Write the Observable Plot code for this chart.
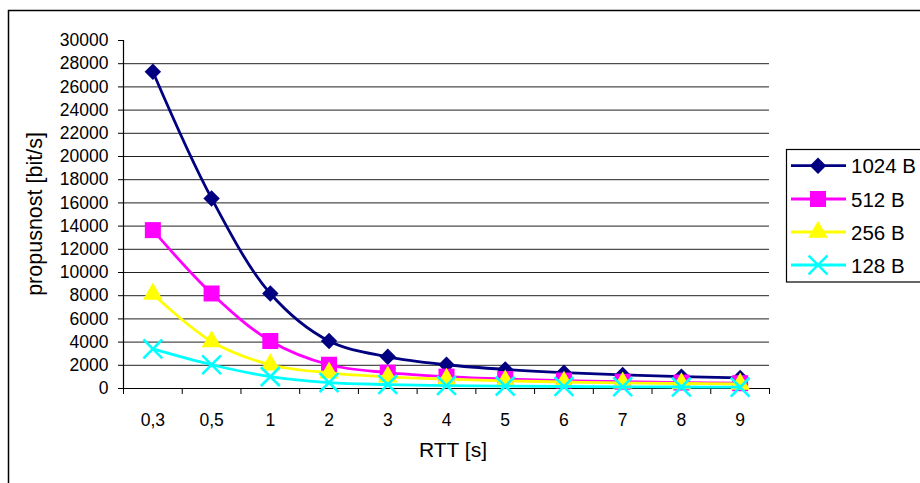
<!DOCTYPE html>
<html>
<head>
<meta charset="utf-8">
<script src="https://cdn.jsdelivr.net/npm/d3@7"></script>
<script src="https://cdn.jsdelivr.net/npm/@observablehq/plot@0.6"></script>
<style>
  html, body { margin: 0; padding: 0; background: #fff; }
  #chart { width: 920px; height: 483px; overflow: hidden; }
</style>
</head>
<body>
<div id="chart"></div>
<script>
// ---- data ----
const categories = ["0,3", "0,5", "1", "2", "3", "4", "5", "6", "7", "8", "9"];
const s1024 = [27300, 16384, 8192, 4096, 2731, 2048, 1638, 1365, 1170, 1024, 910];
const s512  = [13653, 8192, 4096, 2048, 1365, 1024, 819, 683, 585, 512, 455];
const s256  = [8150, 4050, 2048, 1350, 1000, 800, 660, 560, 480, 430, 390];
const s128  = [3413, 2048, 1024, 512, 341, 256, 205, 171, 146, 128, 114];
const seriesNames = ["1024 B", "512 B", "256 B", "128 B"];
const yTicks = [0, 2000, 4000, 6000, 8000, 10000, 12000, 14000, 16000, 18000, 20000, 22000, 24000, 26000, 28000, 30000];
const xTitle = "RTT [s]";
const yTitle = "propusnost [bit/s]";

// ---- styles ----
const seriesValues = [s1024, s512, s256, s128];
const styles = [
  {color: "#000080", symbol: "diamond2", d3sym: d3.symbolDiamond2, r: 7.4, filled: true},
  {color: "#FF00FF", symbol: "square2", d3sym: d3.symbolSquare2, r: 10.2, filled: true},
  {color: "#FFFF00", symbol: "triangle2", d3sym: d3.symbolTriangle2, r: 9.4, filled: true},
  {color: "#00FFFF", symbol: "times", d3sym: d3.symbolTimes, r: 8.6, filled: false}
];

const catIndex = categories.map((c, i) => i);
const boundaries = categories.map((c, i) => i).concat([categories.length]);
const centers = catIndex.map(i => i + 0.5);
const gridTicks = yTicks.filter(t => t !== yTicks[0] && t !== yTicks[yTicks.length - 1]);

const seriesMarks = [];
seriesValues.forEach((vals, si) => {
  const st = styles[si];
  const data = vals.map((v, i) => ({xi: i + 0.5, v}));
  seriesMarks.push(Plot.line(data, {x: "xi", y: "v", stroke: st.color, strokeWidth: 2.8, curve: "catmull-rom"}));
  if (st.filled) {
    seriesMarks.push(Plot.dot(data, {x: "xi", y: "v", symbol: st.symbol, r: st.r, fill: st.color, stroke: "none"}));
  } else {
    seriesMarks.push(Plot.dot(data, {x: "xi", y: "v", symbol: st.symbol, r: st.r, fill: "none", stroke: st.color, strokeWidth: 2.6}));
  }
});

const plot = Plot.plot({
  width: 920,
  height: 483,
  marginLeft: 123,
  marginRight: 151,
  marginTop: 40,
  marginBottom: 95,
  x: {type: "linear", domain: [0, categories.length], axis: null},
  y: {type: "linear", domain: [0, 30000], axis: null},
  style: {fontFamily: "'Liberation Sans', Arial, sans-serif", fontSize: "17.5px", background: "#fff", color: "#000", overflow: "visible"},
  marks: [
    Plot.ruleY(gridTicks, {stroke: "#222", strokeWidth: 1}),
    Plot.axisY({ticks: yTicks, tickSize: 5, tickPadding: 10, tickFormat: d3.format("d"), label: null, fontSize: 17.5, stroke: "#000"}),
    Plot.axisX({ticks: boundaries, tickSize: 6, tickFormat: () => "", label: null, stroke: "#000"}),
    Plot.axisX({ticks: centers, tickSize: 0, tickPadding: 25, tickFormat: d => categories[Math.round(d - 0.5)], label: null, fontSize: 17.5}),
    Plot.ruleX([0], {y1: 0, y2: 30000, stroke: "#000", strokeWidth: 1.2}),
    Plot.ruleY([0], {stroke: "#000", strokeWidth: 1.2}),
    ...seriesMarks
  ]
});

document.getElementById("chart").appendChild(plot);

// ---- decorations: border, titles, legend ----
const svg = d3.select(plot);
// enforce tick label size on Plot's own texts
svg.selectAll("text").style("font-size", "17.5px").style("font-family", "'Liberation Sans', Arial, sans-serif");

svg.append("rect")
  .attr("x", 8.5).attr("y", 10.5).attr("width", 940).attr("height", 500)
  .attr("fill", "none").attr("stroke", "#000").attr("stroke-width", 1.5);

svg.append("text")
  .attr("x", 453).attr("y", 457)
  .attr("text-anchor", "middle")
  .style("font-size", "21px")
  .attr("fill", "#000")
  .text(xTitle);

svg.append("text")
  .attr("transform", "translate(42,214) rotate(-90)")
  .attr("text-anchor", "middle")
  .style("font-size", "21.5px")
  .attr("fill", "#000")
  .text(yTitle);

const lg = svg.append("g");
lg.append("rect")
  .attr("x", 786.5).attr("y", 149.5).attr("width", 200).attr("height", 132.5)
  .attr("fill", "#fff").attr("stroke", "#000").attr("stroke-width", 1.2);
const rowY = [165.7, 199, 232, 265];
seriesNames.forEach((name, i) => {
  const st = styles[i];
  const y = rowY[i];
  lg.append("line").attr("x1", 791).attr("x2", 846).attr("y1", y).attr("y2", y)
    .attr("stroke", st.color).attr("stroke-width", 2.8);
  const p = lg.append("path")
    .attr("transform", `translate(818,${y})`)
    .attr("d", d3.symbol(st.d3sym, st.r * st.r * Math.PI)());
  if (st.filled) p.attr("fill", st.color);
  else p.attr("fill", "none").attr("stroke", st.color).attr("stroke-width", 2.6);
  lg.append("text").attr("x", 851).attr("y", y + 7.5)
    .attr("text-anchor", "start")
    .style("font-size", "20.5px").attr("fill", "#000").text(name);
});
</script>
</body>
</html>
